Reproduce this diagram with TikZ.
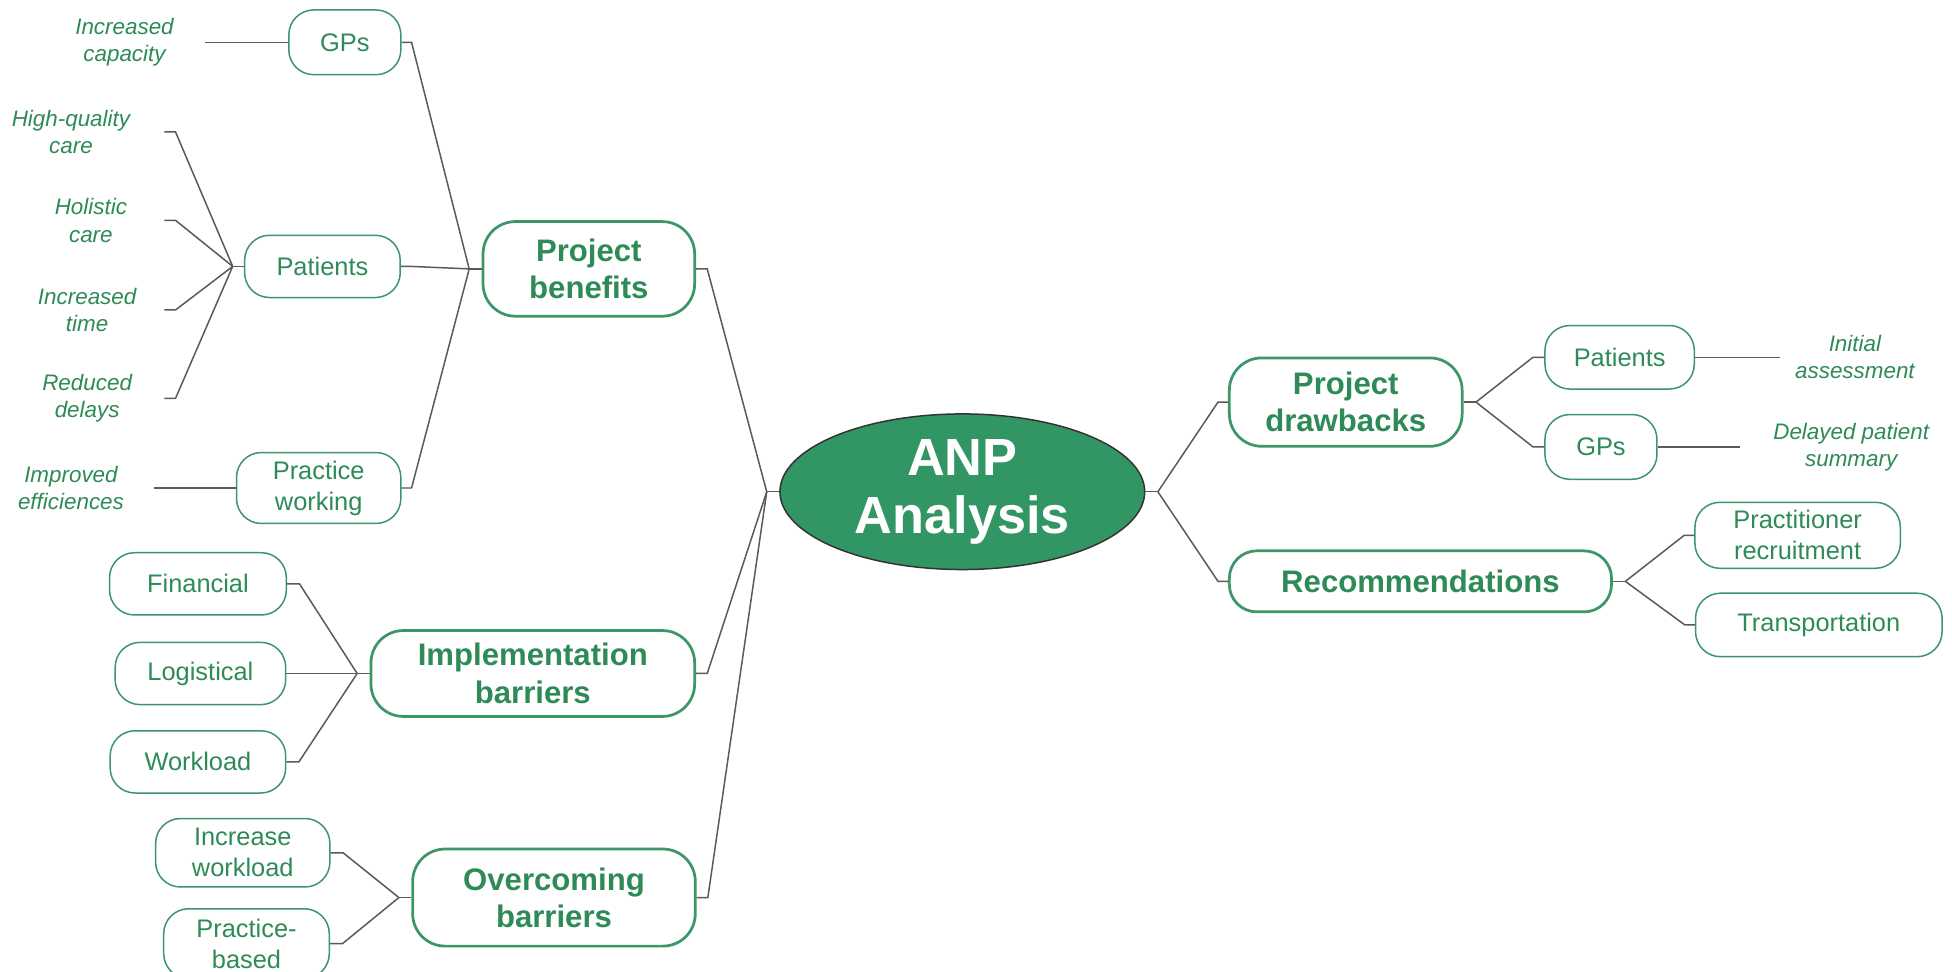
\documentclass[tikz,border=0pt]{standalone}
\usepackage{fontspec}
\setmainfont{Liberation Sans}
\usetikzlibrary{calc,shapes.geometric}
\definecolor{tgreen}{RGB}{46,139,87}
\definecolor{bgreen}{RGB}{60,150,105}
\definecolor{efill}{RGB}{50,150,100}
\definecolor{lgray}{RGB}{90,90,90}
\begin{document}
\begin{tikzpicture}[x=0.5pt,y=-0.5pt,
 conn/.style={draw=lgray,line width=0.6pt},
 sub/.style={draw=bgreen,line width=0.6pt,rounded corners=10pt,inner sep=0pt,align=center,text=tgreen,font=\fontsize{10.2}{12.5}\selectfont},
 mainbox/.style={draw=bgreen,line width=1.1pt,rounded corners=13pt,inner sep=0pt,align=center,text=tgreen,font=\fontsize{12.5}{15}\selectfont\bfseries},
 leaf/.style={inner sep=0pt,align=center,text=tgreen,font=\fontsize{9}{11}\selectfont\itshape},
 ]
\clip (0,0) rectangle (1568,780);
\fill[white] (0,0) rectangle (1568,780);

% centre
\node[ellipse, draw=black!80, line width=0.6pt, fill=efill, minimum width=146.5pt, minimum height=62.5pt, inner sep=0pt, text=white, font=\fontsize{21}{23.5}\selectfont\bfseries, align=center] (anp) at (773,395) {ANP\\Analysis};

% main branches
\node[mainbox,minimum width=85pt,minimum height=38pt] (pb) at (473,216) {Project\\benefits};
\node[mainbox,minimum width=130pt,minimum height=34.5pt] (ib) at (428,541) {Implementation\\barriers};
\node[mainbox,minimum width=113.5pt,minimum height=39pt] (ob) at (445,721) {Overcoming\\barriers};
\node[mainbox,minimum width=93.5pt,minimum height=35.5pt] (pd) at (1081,323) {Project\\drawbacks};
\node[mainbox,minimum width=153.5pt,minimum height=24.5pt,rounded corners=11pt] (rec) at (1141,467) {Recommendations};

% sub boxes
\node[sub,minimum width=45pt,minimum height=26pt] (gp1) at (277,34) {GPs};
\node[sub,minimum width=62.5pt,minimum height=25pt] (pat1) at (259,214) {Patients};
\node[sub,minimum width=66pt,minimum height=28.5pt] (pw) at (256,392) {Practice\\working};
\node[sub,minimum width=71pt,minimum height=25pt] (fin) at (159,469) {Financial};
\node[sub,minimum width=68.5pt,minimum height=25pt] (log) at (161,541) {Logistical};
\node[sub,minimum width=70.5pt,minimum height=25pt] (wl) at (159,612) {Workload};
\node[sub,minimum width=70pt,minimum height=27.5pt] (iw) at (195,685) {Increase\\workload};
\node[sub,minimum width=66.5pt,minimum height=28pt] (pbsd) at (198,758) {Practice-\\based};
\node[sub,minimum width=60pt,minimum height=25.5pt] (pat2) at (1301,287) {Patients};
\node[sub,minimum width=45pt,minimum height=26pt] (gp2) at (1286,359) {GPs};
\node[sub,minimum width=82.5pt,minimum height=26.5pt] (prr) at (1444,430) {Practitioner\\recruitment};
\node[sub,minimum width=99pt,minimum height=25.5pt] (tr) at (1461,502) {Transportation};

% leaves
\node[leaf] (l1) at (100,34) {Increased\\capacity};
\node[leaf] (l2) at (57,106) {High-quality\\care};
\node[leaf] (l3) at (73,177) {Holistic\\care};
\node[leaf] (l4) at (70,249) {Increased\\time};
\node[leaf] (l5) at (70,320) {Reduced\\delays};
\node[leaf] (l6) at (57,392) {Improved\\efficiences};
\node[leaf] (r1) at (1490,287) {Initial\\assessment};
\node[leaf] (r2) at (1487,359) {Delayed patient\\summary};

% free ends of leaf lines
\coordinate (e1) at (165,34);
\coordinate (e2) at (132,106);
\coordinate (e3) at (132,177);
\coordinate (e4) at (132,249);
\coordinate (e5) at (132,320);
\coordinate (e6) at (124,392);
\coordinate (e7) at (1430,287);
\coordinate (e8) at (1398,359);

% connectors: centre
\draw[conn] (anp.west) -- ++(-10,0) coordinate (jL);
\draw[conn] (jL) -- ($(pb.east)+(9,0)$) -- (pb.east);
\draw[conn] (jL) -- ($(ib.east)+(9,0)$) -- (ib.east);
\draw[conn] (jL) -- ($(ob.east)+(9,0)$) -- (ob.east);
\draw[conn] (anp.east) -- ++(10,0) coordinate (jR);
\draw[conn] (jR) -- ($(pd.west)+(-8,0)$) -- (pd.west);
\draw[conn] (jR) -- ($(rec.west)+(-8,0)$) -- (rec.west);

% project benefits
\draw[conn] (pb.west) -- ++(-10,0) coordinate (jPB);
\draw[conn] (jPB) -- ($(gp1.east)+(8,0)$) -- (gp1.east);
\draw[conn] (jPB) -- ($(pat1.east)+(8,0)$) -- (pat1.east);
\draw[conn] (jPB) -- ($(pw.east)+(8,0)$) -- (pw.east);
\draw[conn] (gp1.west) -- (e1);
\draw[conn] (pw.west) -- (e6);
\draw[conn] (pat1.west) -- ++(-9,0) coordinate (jP);
\draw[conn] (jP) -- ($(e2)+(9,0)$) -- (e2);
\draw[conn] (jP) -- ($(e3)+(9,0)$) -- (e3);
\draw[conn] (jP) -- ($(e4)+(9,0)$) -- (e4);
\draw[conn] (jP) -- ($(e5)+(9,0)$) -- (e5);

% implementation barriers
\draw[conn] (ib.west) -- ++(-10,0) coordinate (jIB);
\draw[conn] (jIB) -- ($(fin.east)+(10,0)$) -- (fin.east);
\draw[conn] (jIB) -- (log.east);
\draw[conn] (jIB) -- ($(wl.east)+(10,0)$) -- (wl.east);

% overcoming barriers
\draw[conn] (ob.west) -- ++(-10,0) coordinate (jOB);
\draw[conn] (jOB) -- ($(iw.east)+(10,0)$) -- (iw.east);
\draw[conn] (jOB) -- ($(pbsd.east)+(10,0)$) -- (pbsd.east);

% project drawbacks
\draw[conn] (pd.east) -- ++(10,0) coordinate (jPD);
\draw[conn] (jPD) -- ($(pat2.west)+(-9,0)$) -- (pat2.west);
\draw[conn] (jPD) -- ($(gp2.west)+(-9,0)$) -- (gp2.west);
\draw[conn] (pat2.east) -- (e7);
\draw[conn] (gp2.east) -- (e8);

% recommendations
\draw[conn] (rec.east) -- ++(10,0) coordinate (jRec);
\draw[conn] (jRec) -- ($(prr.west)+(-8,0)$) -- (prr.west);
\draw[conn] (jRec) -- ($(tr.west)+(-8,0)$) -- (tr.west);
\end{tikzpicture}
\end{document}
